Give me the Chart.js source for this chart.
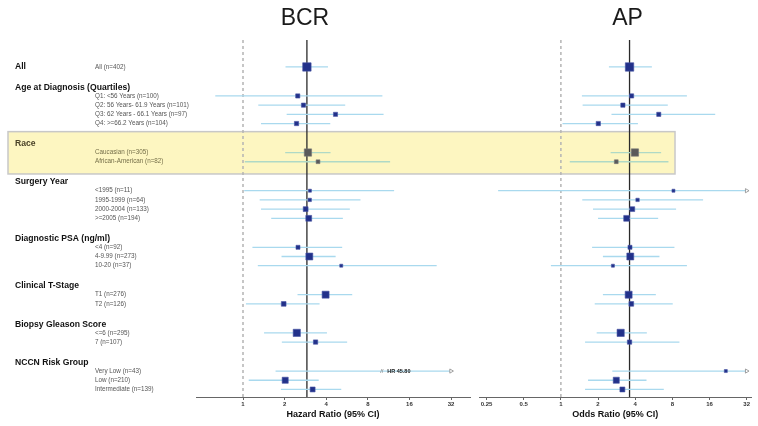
<!DOCTYPE html>
<html>
<head>
<meta charset="utf-8">
<script src="https://cdn.jsdelivr.net/npm/chart.js@4.4.1/dist/chart.umd.min.js"></script>
<style>
body{margin:0;background:#fff;}
#wrap{position:relative;width:758px;height:426px;}
#wrap canvas{position:absolute;left:0;top:0;}
</style>
</head>
<body>
<div id="wrap">
<canvas id="bcrChart" width="758" height="426"></canvas>
<canvas id="apChart" width="758" height="426"></canvas>
</div>
<script>
const groups = ['All','Age at Diagnosis (Quartiles)','Race','Surgery Year','Diagnostic PSA (ng/ml)','Clinical T-Stage','Biopsy Gleason Score','NCCN Risk Group']
const rowLabels = ['All','Q1: <56 Years','Q2: 56 Years- 61.9 Years','Q3: 62 Years - 66.1 Years','Q4: >=66.2 Years',
  'Caucasian','African-American','<1995','1995-1999','2000-2004','>=2005','<4','4-9.99','10-20',
  'T1','T2','<=6','7','Very Low','Low','Intermediate']
const rowN = [402,100,101,97,104,305,82,11,64,133,194,92,273,37,276,126,295,107,43,210,139]
const rowGroup = [0,1,1,1,1,2,2,3,3,3,3,4,4,4,5,5,6,6,7,7,7]

// BCR hazard ratios
const bcrHR = [2.90,2.49,2.74,4.67,2.44,2.95,3.49,3.05,3.04,2.84,2.99,2.50,3.02,5.14,3.96,1.97,2.45,3.35,45.80,2.02,3.19]
const bcrLo = [2.03,0.63,1.29,2.07,1.35,2.02,1.03,1.02,1.32,1.35,1.60,1.17,1.90,1.28,2.48,1.05,1.42,1.91,1.72,1.10,1.88]
const bcrHi = [4.12,10.2,5.49,10.4,4.28,4.30,11.6,12.4,7.08,5.93,5.28,5.22,4.68,25.2,6.17,3.58,4.05,5.67,1220,3.53,5.14]
// AP odds ratios
const apOR = [3.60,3.74,3.18,6.21,2.01,3.98,2.81,8.17,4.18,3.79,3.41,3.63,3.65,2.64,3.54,3.72,3.05,3.60,21.7,2.81,3.15]
const apLo = [2.45,1.48,1.50,2.57,1.03,2.53,1.18,0.31,1.49,1.82,2.00,1.79,2.19,0.83,2.19,1.88,1.95,1.57,2.61,1.66,1.57]
const apHi = [5.46,10.5,7.35,17.8,4.21,6.49,7.44,215,14.2,8.58,6.14,8.32,6.29,10.5,5.88,8.06,4.97,9.13,180,4.94,6.82]

const bcrTicks = [1,2,4,8,16,32]
const apTicks = [0.25,0.5,1,2,4,8,16,32]

const FONT = "'Liberation Sans', Arial, sans-serif"
Chart.defaults.font.family = FONT

const highlight = 2 // Race block gets the yellow box

// one unit per row, wider gap between groups
const rowPos = []
rowGroup.forEach((g, i) => {
  if (i === 0) rowPos.push(0)
  else rowPos.push(rowPos[i-1] + (g !== rowGroup[i-1] ? 3.15 : 1))
})

function ciSets(lo, hi, cap) {
  return lo.map((l, i) => {
    const clipped = hi[i] > cap
    return {
      type:'line',
      order:1,
      data:[{x:l, y:rowPos[i]}, {x:Math.min(hi[i], cap), y:rowPos[i]}],
      borderColor: rowGroup[i] === highlight ? '#afd9c6' : '#a9d9ee',
      borderWidth:1.3,
      pointRadius:[0, clipped ? 2.4 : 0],
      pointStyle:'triangle',
      pointRotation:90,
      pointBorderColor:'#8a8a8a',
      pointBackgroundColor:'#fff',
      pointBorderWidth:0.8
    }
  })
}

function markerSet(est) {
  return {
    type:'scatter',
    order:0,
    clip:0,
    data: est.map((v, i) => ({x:v, y:rowPos[i]})),
    pointStyle:'rect',
    pointRadius: rowN.map(n => Math.max(3, 0.42*Math.sqrt(n)) / Math.SQRT2),
    pointBackgroundColor: rowGroup.map(g => g === highlight ? '#5a5a5a' : '#22318a'),
    pointBorderColor: rowGroup.map(g => g === highlight ? '#777' : '#4654a3'),
    pointBorderWidth:0.6
  }
}

function xAxis(min, max, ticks, title) {
  return {
    type:'logarithmic', min:min, max:max,
    afterBuildTicks: s => { s.ticks = ticks.map(v => ({value:v})) },
    afterFit: s => { s.height = 29 },
    ticks:{font:{size:6, weight:'bold'}, color:'#333', padding:1, autoSkip:false, maxRotation:0, callback: v => String(v)},
    grid:{drawOnChartArea:false, tickLength:3, color:'#666'},
    border:{color:'#666', width:1},
    title:{display:true, text:title, font:{size:9, weight:'bold'}, color:'#111', padding:{top:0, bottom:6}}
  }
}
const yAxis = {type:'linear', reverse:true, min:-2.93, max:35.87, display:false}

// reference lines, panel title, highlight box
const refLines = {
  id:'refLines',
  beforeDatasetsDraw(chart, args, opts) {
    const {ctx, chartArea:a, scales:{x, y}} = chart
    ctx.save()
    if (opts.box) {
      const rows = rowPos.filter((p, i) => rowGroup[i] === highlight)
      const top = y.getPixelForValue(rows[0] - 2.27)
      const bot = y.getPixelForValue(rows[rows.length-1] + 1.33)
      ctx.fillStyle = '#fdf6c1'
      ctx.fillRect(8, top, 667, bot - top)
      ctx.strokeStyle = '#c8c8c8'
      ctx.lineWidth = 1.5
      ctx.strokeRect(8, top, 667, bot - top)
    }
    const x1 = x.getPixelForValue(1)
    ctx.strokeStyle = '#b4b4b4'
    ctx.lineWidth = 1.5
    ctx.setLineDash([3, 3])
    ctx.beginPath(); ctx.moveTo(x1, a.top); ctx.lineTo(x1, a.bottom); ctx.stroke()
    ctx.setLineDash([])
    const xo = x.getPixelForValue(opts.overall)
    ctx.strokeStyle = '#2a2a2a'
    ctx.lineWidth = 1.3
    ctx.beginPath(); ctx.moveTo(xo, a.top); ctx.lineTo(xo, a.bottom); ctx.stroke()
    ctx.font = '23px ' + FONT
    ctx.fillStyle = '#1a1a1a'
    ctx.textAlign = 'center'
    ctx.textBaseline = 'middle'
    ctx.fillText(opts.title, xo - 2, 19)
    ctx.restore()
  },
  afterDatasetsDraw(chart, args, opts) {
    // off-scale estimates get a break mark and printed value
    const {ctx, scales:{x, y}} = chart
    ctx.save()
    ctx.textBaseline = 'middle'
    ctx.textAlign = 'left'
    opts.est.forEach((v, i) => {
      if (v <= x.max) return
      const px = x.getPixelForValue(10)
      const py = y.getPixelForValue(rowPos[i])
      ctx.font = '6px ' + FONT
      ctx.fillStyle = '#777'
      ctx.fillText('//', px - 1, py)
      ctx.font = 'bold 5.5px ' + FONT
      ctx.fillStyle = '#222'
      ctx.fillText(opts.prefix + ' ' + v.toFixed(2), px + 6, py)
    })
    ctx.restore()
  }
}

const rowText = {
  id:'rowText',
  afterDraw(chart) {
    const {ctx, scales:{y}} = chart
    ctx.save()
    ctx.textBaseline = 'middle'
    ctx.textAlign = 'left'
    groups.forEach((g, gi) => {
      const first = rowGroup.indexOf(gi)
      const yy = y.getPixelForValue(rowPos[first] - (gi === 0 ? 0 : 0.95))
      ctx.font = 'bold 8.6px ' + FONT
      ctx.fillStyle = gi === highlight ? '#4a4228' : '#111'
      ctx.fillText(g, 15, yy)
    })
    rowLabels.forEach((l, i) => {
      ctx.font = '6.3px ' + FONT
      ctx.fillStyle = rowGroup[i] === highlight ? '#76704a' : '#555'
      ctx.fillText(l + ' (n=' + rowN[i] + ')', 95, y.getPixelForValue(rowPos[i]))
    })
    ctx.restore()
  }
}

const bcrCtx = document.getElementById('bcrChart').getContext('2d')
const apCtx = document.getElementById('apChart').getContext('2d')

const bcrChart = new Chart(bcrCtx, {
  type:'scatter',
  data:{datasets:[markerSet(bcrHR), ...ciSets(bcrLo, bcrHi, 32)]},
  options:{
    responsive:false,
    devicePixelRatio:1,
    animation:false,
    layout:{padding:{left:196, right:288, top:40, bottom:0}},
    scales:{x:xAxis(0.457, 43.9, bcrTicks, 'Hazard Ratio (95% CI)'), y:yAxis},
    plugins:{
      legend:{display:false},
      tooltip:{enabled:false},
      refLines:{overall:bcrHR[0], title:'BCR', box:true, est:bcrHR, prefix:'HR'}
    }
  },
  plugins:[refLines, rowText]
})

const apChart = new Chart(apCtx, {
  type:'scatter',
  data:{datasets:[markerSet(apOR), ...ciSets(apLo, apHi, 32)]},
  options:{
    responsive:false,
    devicePixelRatio:1,
    animation:false,
    layout:{padding:{left:479, right:6, top:40, bottom:0}},
    scales:{x:xAxis(0.217, 35, apTicks, 'Odds Ratio (95% CI)'), y:yAxis},
    plugins:{
      legend:{display:false},
      tooltip:{enabled:false},
      refLines:{overall:apOR[0], title:'AP', box:false, est:apOR, prefix:'OR'}
    }
  },
  plugins:[refLines]
})
</script>
</body>
</html>
